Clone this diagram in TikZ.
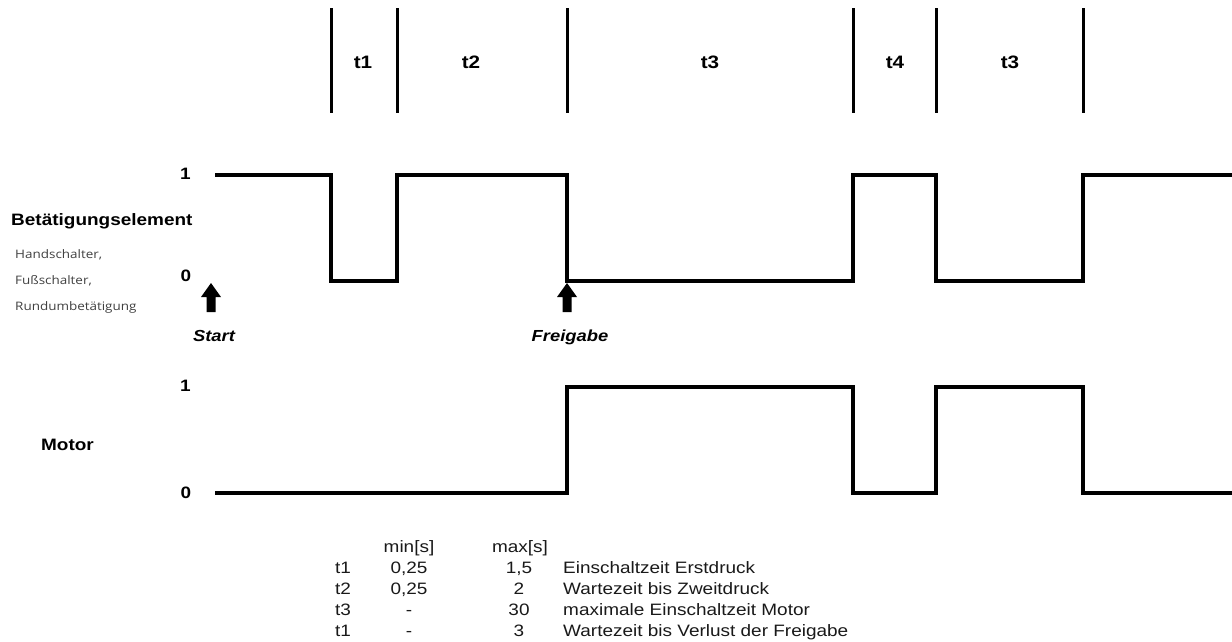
\documentclass[tikz,border=0pt]{standalone}
\usepackage{fontspec}
\setmainfont{Liberation Sans}[FakeStretch=1.15]
\newfontfamily\smallsans{Open Sans}[FakeStretch=1.15]
\begin{document}
\begin{tikzpicture}[x=1pt,y=-1pt,
  sig/.style={line width=3.2pt,line join=miter},
  sep/.style={line width=3pt},
  lbl/.style={font=\fontsize{16.5}{18}\selectfont\bfseries,inner sep=0pt,anchor=base},
  tlbl/.style={font=\fontsize{18}{20}\selectfont\bfseries,inner sep=0pt,anchor=base},
  lvl/.style={font=\fontsize{16.5}{18}\selectfont\bfseries,inner sep=0pt,anchor=base},
  sub/.style={font=\smallsans\fontsize{11.7}{13}\selectfont,inner sep=0pt,anchor=base west,text=black!75},
  evlbl/.style={font=\fontsize{16}{18}\selectfont\bfseries\itshape,inner sep=0pt,anchor=base},
  tab/.style={font=\fontsize{16.5}{18}\selectfont,inner sep=0pt,anchor=base,text=black!90},
  blk/.style={fill=black}]
\useasboundingbox (0,0) rectangle (1232,641);
% top separators
\foreach \x in {331,397,567,853,936,1083} \draw[sep] (\x,8) -- (\x,113);
\node[tlbl] (l1) at (363,68.5) {t1};
\node[tlbl] (l2) at (471,68.5) {t2};
\node[tlbl] (l3) at (710,68.5) {t3};
\node[tlbl] (l4) at (895,68.5) {t4};
\node[tlbl] (l5) at (1010,68.5) {t3};
% signal 1
\draw[sig] (215,175) -- (331,175) -- (331,281) -- (397,281) -- (397,175) -- (567,175) -- (567,281) -- (853,281) -- (853,175) -- (936,175) -- (936,281) -- (1083,281) -- (1083,175) -- (1232,175);
\node[lvl] (a1) at (185.5,179) {1};
\node[lvl] (a0) at (186,281) {0};
\node[lbl,anchor=base west] (be) at (11,225) {Betätigungselement};
\node[sub] (h1) at (15,258) {Handschalter,};
\node[sub] (h2) at (15,284) {Fußschalter,};
\node[sub] (h3) at (15,310) {Rundumbetätigung};
% arrows
\fill[blk] (206.5,312) -- (206.5,297) -- (201,297) -- (211,283) -- (221,297) -- (215.5,297) -- (215.5,312) -- cycle;
\fill[blk] (562.5,312) -- (562.5,297) -- (557,297) -- (567,283) -- (577,297) -- (571.5,297) -- (571.5,312) -- cycle;
\node[evlbl] (st) at (214,341) {Start};
\node[evlbl] (fr) at (570,341) {Freigabe};
% signal 2
\draw[sig] (215,493) -- (567,493) -- (567,387) -- (853,387) -- (853,493) -- (936,493) -- (936,387) -- (1083,387) -- (1083,493) -- (1232,493);
\node[lvl] (b1) at (185.5,391) {1};
\node[lvl] (b0) at (186,498) {0};
\node[lbl] (mo) at (67.5,450) {Motor};
% table
\node[tab] (hmin) at (409,552) {min[s]};
\node[tab] (hmax) at (520,552) {max[s]};
\foreach \y/\t/\mn/\mx/\d [count=\i] in {573/t1/{0,25}/{1,5}/Einschaltzeit Erstdruck,594/t2/{0,25}/2/Wartezeit bis Zweitdruck,615/t3/-/30/maximale Einschaltzeit Motor,636/t1/-/3/Wartezeit bis Verlust der Freigabe}{
  \node[tab] (tn\i) at (343,\y) {\t};
  \node[tab] (tmin\i) at (409,\y) {\mn};
  \node[tab] (tmax\i) at (519,\y) {\mx};
  \node[tab,anchor=base west] (td\i) at (563,\y) {\d};
}
\end{tikzpicture}
\end{document}
